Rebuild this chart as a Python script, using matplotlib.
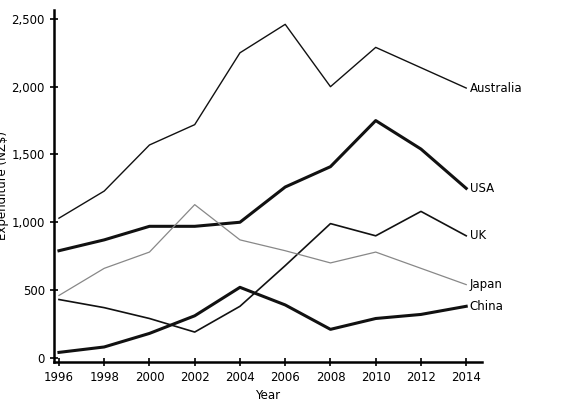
import matplotlib
matplotlib.use("Agg")
import matplotlib.pyplot as plt

years = [1996, 1998, 2000, 2002, 2004, 2006, 2008, 2010, 2012, 2014]
australia = [1030, 1230, 1570, 1720, 2250, 2460, 2000, 2290, 2140, 1990]
usa = [790, 870, 970, 970, 1000, 1260, 1410, 1750, 1540, 1250]
uk = [430, 370, 290, 190, 380, 680, 990, 900, 1080, 900]
japan = [460, 660, 780, 1130, 870, 790, 700, 780, 660, 540]
china = [40, 80, 180, 310, 520, 390, 210, 290, 320, 380]

fig = plt.figure(figsize=(5.64, 4.15), dpi=100)
ax = fig.add_axes([0.0957, 0.128, 0.759, 0.848])
series = [("Australia", australia, "#111111", 1.0),
          ("USA", usa, "#111111", 2.2),
          ("UK", uk, "#111111", 1.2),
          ("Japan", japan, "#888888", 0.9),
          ("China", china, "#111111", 2.2)]
for name, vals, c, lw in series:
    ax.plot(years, vals, color=c, lw=lw)
    ax.text(years[-1] + 0.15, vals[-1], name, va="center", ha="left", fontsize=8.5)
ax.set_xlim(1995.78, 2014.7)
ax.set_ylim(-30, 2566)
ax.set_xticks(years)
ax.set_yticks([0, 500, 1000, 1500, 2000, 2500])
ax.set_yticklabels(["0", "500", "1,000", "1,500", "2,000", "2,500"])
ax.tick_params(labelsize=8.5, direction="inout", length=6, width=1.2)
for s in ["left", "bottom"]:
    ax.spines[s].set_linewidth(1.8)
ax.spines["top"].set_visible(False)
ax.spines["right"].set_visible(False)
ax.set_xlabel("Year", fontsize=8.5)
ax.set_ylabel("Expenditure (NZ$)", fontsize=8.5, labelpad=2)
fig.savefig("out.png", dpi=100)
